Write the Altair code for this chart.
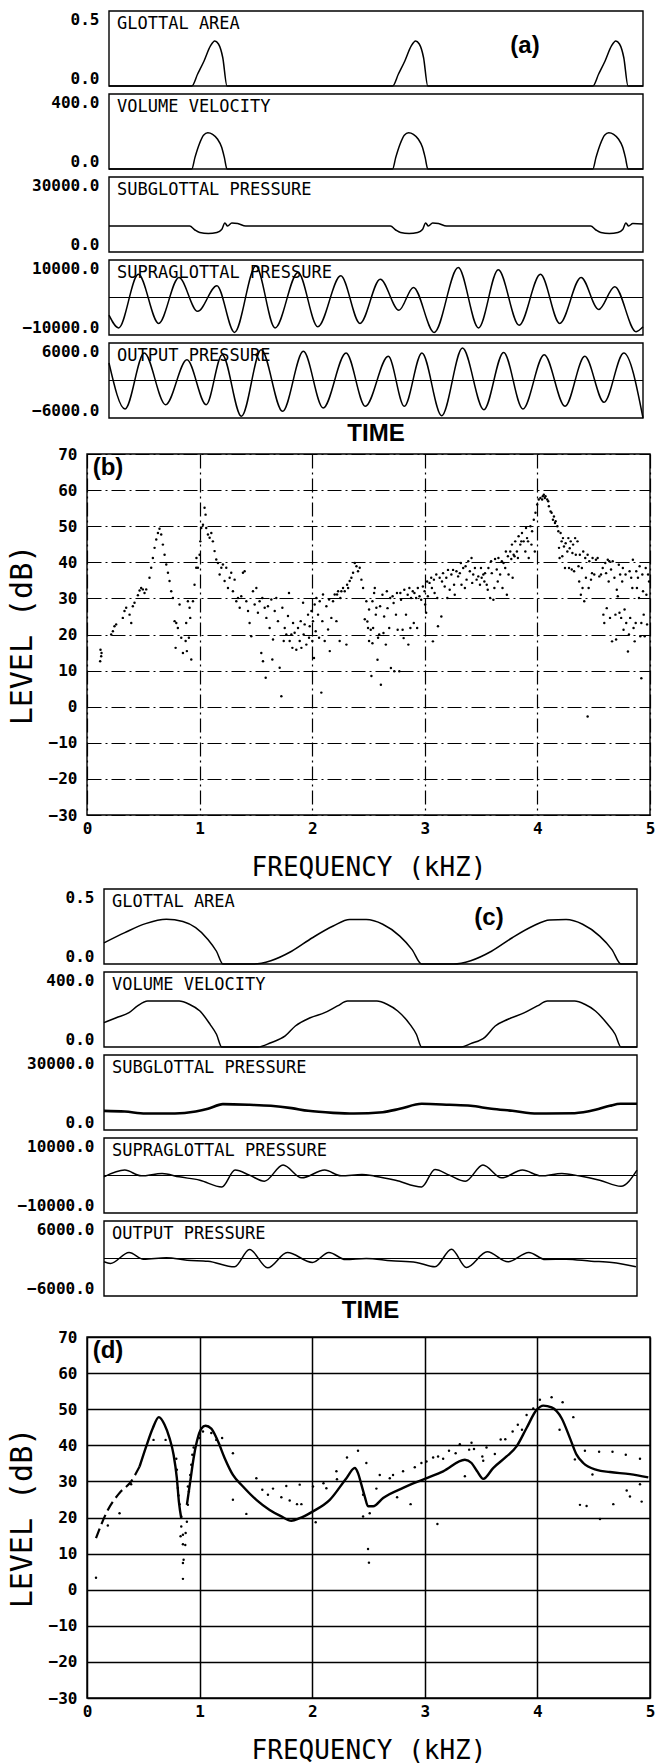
import altair as alt
import pandas as pd

MONO = "DejaVu Sans Mono"
SANS = "Liberation Sans"

# ---------------- (a) time waveforms, time axis in 0..100 units ----------------
A_GLOTTAL_T = [0, 15.5, 16.6, 17.8, 19.0, 19.8, 20.5, 21.3, 22.1,
               53.1, 54.2, 55.4, 56.6, 57.4, 58.1, 58.9, 59.7,
               90.6, 91.7, 92.9, 94.1, 94.9, 95.6, 96.4, 97.2, 100]
A_GLOTTAL_V = [0, 0, 0.08, 0.167, 0.267, 0.30, 0.28, 0.19, 0,
               0, 0.08, 0.167, 0.267, 0.30, 0.28, 0.19, 0,
               0, 0.08, 0.167, 0.267, 0.30, 0.28, 0.19, 0, 0]

A_FLOW_T = [0, 15.5, 16.1, 16.9, 17.7, 18.5, 19.4, 20.3, 21.1, 21.6, 22.1,
            53.1, 53.7, 54.5, 55.3, 56.1, 57.0, 57.9, 58.7, 59.2, 59.7,
            90.6, 91.2, 92.0, 92.8, 93.6, 94.5, 95.4, 96.2, 96.7, 97.2, 100]
A_FLOW_V = [0, 0, 62, 132, 180, 193, 185, 160, 116, 62, 0,
            0, 62, 132, 180, 193, 185, 160, 116, 62, 0,
            0, 62, 132, 180, 193, 185, 160, 116, 62, 0, 0]

A_SUB_T = [0, 15.1, 16.1, 17.0, 18.6, 20.2, 21.1, 21.7, 22.2, 23.0, 24.1, 25.6,
           52.7, 53.7, 54.6, 56.2, 57.8, 58.7, 59.3, 59.8, 60.6, 61.7, 63.2,
           90.2, 91.2, 92.1, 93.7, 95.3, 96.2, 96.8, 97.3, 98.1, 100]
A_SUB_V = [10400, 10400, 8800, 7800, 7400, 7800, 9000, 11600, 10400, 11600, 11400, 10400,
           10400, 8800, 7800, 7400, 7800, 9000, 11600, 10400, 11600, 11400, 10400,
           10400, 8800, 7800, 7400, 7800, 9000, 11600, 10400, 11400, 11200]

A_SUPRA_T = [0, 1.8, 5.5, 9.3, 13.1, 16.6, 20.2, 23.5, 27.5, 31.1, 35.4, 39.1, 43.4,
             47.0, 50.8, 54.3, 57.0, 60.9, 65.4, 69.2, 72.9, 76.8, 80.8, 84.4, 88.4,
             91.7, 94.7, 98.7, 100]
A_SUPRA_V = [-4700, -8100, 6200, -6900, 5350, -3700, 3160, -9300, 8400, -8100, 6700, -7800, 5800,
             -6900, 4900, -3400, 2700, -9300, 8000, -8100, 7400, -7400, 6200, -6900, 5350,
             -3200, 2900, -9100, -7800]

A_OUT_T = [0, 3.0, 6.6, 10.6, 14.6, 18.2, 21.2, 24.8, 28.5, 32.5, 36.4, 40.1, 44.4,
           48.0, 52.3, 55.3, 58.6, 62.3, 66.2, 70.2, 73.9, 77.5, 81.5, 85.4, 89.1,
           92.7, 96.4, 100]
A_OUT_V = [2800, -4560, 4400, -3870, 3330, -3870, 4130, -5730, 4930, -4930, 4670, -4400, 4400,
           -4130, 3870, -4130, 4400, -5630, 5200, -4670, 4500, -4560, 4130, -4130, 3870,
           -3490, 4400, -6000]

# ---------------- (c) time waveforms ----------------
C_GLOTTAL_T = [0, 3.9, 7.8, 11.7, 14.8, 17.2, 19.5, 21.1, 22.3, 28.1, 31.3, 35.2, 39.1,
               43.0, 46.1, 49.2, 52.3, 55.5, 57.8, 59.6, 65.6, 68.8, 72.7, 76.6, 80.5,
               83.6, 86.7, 89.8, 93.0, 95.3, 97.0, 100]
C_GLOTTAL_V = [0.141, 0.209, 0.269, 0.298, 0.283, 0.242, 0.164, 0.085, 0, 0, 0.022, 0.085, 0.175,
               0.253, 0.296, 0.296, 0.265, 0.186, 0.096, 0, 0, 0.022, 0.085, 0.175, 0.253,
               0.294, 0.296, 0.265, 0.186, 0.096, 0, 0]

C_FLOW_T = [0, 2.3, 4.7, 6.3, 8.2, 14.1, 16.0, 18.0, 19.9, 21.1, 22.1, 28.9, 31.3, 34.0,
            35.9, 38.7, 41.4, 43.8, 45.7, 51.2, 53.1, 55.1, 57.4, 58.6, 59.6, 67.0,
            68.8, 71.5, 73.4, 75.8, 78.9, 81.3, 83.2, 88.3, 90.2, 92.2, 94.5, 95.9, 97.0, 100]
C_FLOW_V = [130, 156, 183, 219, 245, 245, 228, 192, 121, 68, 0, 0, 23, 59,
            112, 156, 183, 219, 245, 245, 228, 192, 121, 68, 0, 0,
            18, 53, 112, 148, 183, 219, 245, 245, 228, 192, 121, 68, 0, 0]

C_SUB_T = [0, 3.9, 7.8, 13.3, 17.2, 19.5, 22.3, 27.3, 31.3, 35.2, 38.3, 43.0, 46.9,
           52.3, 55.5, 59.6, 64.8, 68.8, 72.7, 76.6, 81.3, 88.3, 92.2, 94.9, 96.9, 100]
C_SUB_V = [7670, 7400, 6590, 6590, 7400, 8480, 10360, 10090, 9690, 8740, 7670, 6860, 6590,
           7130, 8480, 10490, 10090, 9690, 8480, 7670, 6590, 6730, 8070, 9690, 10490, 10490]

C_SUPRA_T = [0, 3.9, 7.0, 10.9, 14.1, 18.0, 22.1, 24.6, 27.3, 30.1, 33.6, 37.1, 41.4,
             44.5, 48.4, 50.8, 54.7, 59.6, 62.1, 64.8, 67.8, 71.1, 74.6, 78.5, 82.0,
             85.9, 89.1, 93.0, 97.0, 100]
C_SUPRA_V = [-360, 1440, -90, 540, -360, -1260, -3060, 1440, 90, -1530, 2790, -630, 1440,
             -90, 270, -180, -1260, -3060, 1620, 90, -1530, 2790, -630, 1440, -90,
             540, -90, -1260, -2880, 1440]

C_OUT_T = [0, 1.2, 4.7, 7.4, 11.7, 15.6, 19.5, 24.5, 27.3, 30.7, 34.4, 39.1, 42.2,
           45.3, 49.2, 53.9, 58.6, 62.1, 65.2, 68.0, 71.9, 75.8, 79.7, 82.8, 86.7,
           91.4, 95.3, 99.8]
C_OUT_V = [-530, -800, 960, -110, 110, -270, -430, -1330, 1440, -1490, 960, -640, 960,
           -160, 0, -370, -640, -1330, 1490, -1440, 1070, -530, 960, -160, -110,
           -430, -640, -1330]

# ---------------- (b) spectrum points ----------------
B_LOW_KHZ = [0.12, 0.126, 0.117, 0.129, 0.215, 0.23, 0.244, 0.259, 0.318, 0.333, 0.348, 0.378,
             0.393, 0.407, 0.422, 0.452, 0.467, 0.481, 0.496, 0.511, 0.526, 0.555, 0.570, 0.585,
             0.600, 0.615, 0.630, 0.644, 0.659, 0.674, 0.689, 0.704, 0.719, 0.733, 0.748, 0.763,
             0.778, 0.793, 0.807, 0.822, 0.787, 0.837, 0.852, 0.876, 0.887, 0.926, 0.911, 0.896,
             0.881, 0.917, 0.941, 0.905, 0.955, 0.970, 0.972, 0.985, 1.0, 1.006, 1.015, 1.03,
             1.044, 1.053, 1.059, 1.074, 1.089, 1.104, 1.118, 1.133, 1.148, 1.163, 1.178, 1.193,
             1.207, 1.222, 1.237, 1.252, 1.267, 1.281, 1.296, 1.311, 1.326, 1.341, 1.356, 1.385,
             1.4, 1.37, 1.415, 1.43, 1.444, 1.459, 1.474, 1.489, 1.504, 1.518, 1.533, 1.548,
             1.557, 1.563, 1.578, 1.587, 1.593, 1.607, 1.622, 1.637, 1.646, 1.652, 1.667, 1.681,
             1.696, 1.711, 1.726, 1.735, 1.747, 1.756, 1.770, 1.785, 1.794, 1.8, 1.815, 1.824,
             1.830, 1.844, 1.859, 1.874, 1.889, 1.898, 1.904, 1.919, 1.924, 1.933, 1.948, 1.963,
             1.972, 1.978, 1.993, 2.001, 2.007, 2.016, 2.022, 2.031, 2.037, 2.052, 2.061, 2.067,
             2.081, 2.090, 2.096, 2.111, 2.126, 2.141, 2.150, 2.156, 2.170, 2.185, 2.200, 2.215,
             2.221, 2.230, 2.244, 2.250, 2.259, 2.274, 2.289, 2.304, 2.310, 2.319, 2.333, 2.348,
             2.363, 2.378, 2.393, 2.407, 2.422, 2.437, 2.452, 2.467, 2.481, 2.496, 2.505, 2.526,
             2.541, 2.556, 2.570, 2.585]
B_LOW_DB = [15.8, 14.0, 12.6, 14.9, 20.0, 20.9, 22.3, 22.8, 24.6, 26.5, 27.4, 25.5,
            23.2, 27.8, 28.8, 30.9, 32.2, 32.9, 32.5, 31.5, 32.5, 35.7, 38.5, 41.2,
            44.0, 46.3, 48.1, 49.3, 47.7, 44.9, 42.1, 39.4, 37.1, 34.8, 32.0, 30.1,
            23.7, 23.2, 21.8, 28.3, 16.3, 19.1, 14.9, 18.2, 15.4, 13.1, 27.4, 29.2,
            23.2, 24.6, 29.2, 19.1, 33.8, 38.5, 41.2, 38.5, 42.1, 45.8, 49.5, 50.4,
            55.1, 53.2, 49.5, 47.7, 46.8, 48.1, 45.8, 43.1, 40.8, 39.8, 36.6, 38.5,
            39.4, 34.8, 38.5, 32.9, 35.7, 37.1, 32.0, 35.2, 29.2, 30.1, 27.4, 37.1,
            37.5, 30.6, 29.2, 26.5, 23.2, 19.5, 32.0, 28.3, 32.9, 26.0, 29.2, 14.9,
            30.1, 12.6, 27.4, 8.0, 24.6, 27.8, 21.8, 29.7, 13.1, 18.6, 26.5, 30.1,
            23.7, 10.8, 2.9, 27.4, 18.2, 21.8, 20.0, 25.1, 31.5, 18.2, 20.0, 16.3,
            23.2, 20.5, 15.8, 21.8, 18.2, 23.7, 16.3, 28.8, 20.0, 22.8, 17.2, 25.5,
            19.1, 22.3, 26.5, 18.2, 23.7, 13.5, 28.3, 20.9, 30.1, 25.5, 19.1, 29.2,
            3.9, 23.7, 31.1, 18.2, 27.8, 21.4, 29.7, 15.4, 24.6, 29.2, 31.1, 23.7,
            31.1, 32.0, 18.2, 30.1, 32.0, 32.9, 32.0, 17.2, 33.8, 32.9, 34.8, 35.7,
            37.1, 39.8, 38.9, 37.5, 38.5, 35.2, 32.9, 24.2, 29.2, 21.8, 18.2, 8.5,
            21.8, 32.9, 27.4, 19.1]

B_HIGH_KHZ = [2.49, 2.505, 2.52, 2.535, 2.535, 2.55, 2.565, 2.58, 2.595, 2.603, 2.61, 2.624,
              2.633, 2.639, 2.654, 2.663, 2.669, 2.684, 2.693, 2.699, 2.714, 2.723, 2.729, 2.744,
              2.753, 2.759, 2.774, 2.783, 2.789, 2.803, 2.812, 2.818, 2.833, 2.848, 2.854, 2.863,
              2.872, 2.878, 2.893, 2.902, 2.908, 2.923, 2.932, 2.938, 2.953, 2.968, 2.983, 2.998,
              3.003, 3.012, 3.021, 3.027, 3.042, 3.057, 3.063, 3.072, 3.081, 3.087, 3.102, 3.111,
              3.117, 3.132, 3.147, 3.153, 3.162, 3.177, 3.191, 3.2, 3.206, 3.221, 3.236, 3.251,
              3.260, 3.266, 3.281, 3.296, 3.311, 3.320, 3.326, 3.341, 3.356, 3.362, 3.371, 3.386,
              3.400, 3.415, 3.421, 3.430, 3.445, 3.460, 3.475, 3.490, 3.499, 3.505, 3.520, 3.529,
              3.535, 3.550, 3.559, 3.565, 3.580, 3.589, 3.595, 3.609, 3.618, 3.624, 3.639, 3.648,
              3.654, 3.669, 3.684, 3.690, 3.699, 3.714, 3.720, 3.729, 3.738, 3.744, 3.759, 3.768,
              3.774, 3.780, 3.789, 3.797, 3.803, 3.818, 3.827, 3.833, 3.848, 3.857, 3.863, 3.878,
              3.893, 3.899, 3.908, 3.917, 3.923, 3.938, 3.947, 3.953, 3.968, 3.977, 3.983, 3.998,
              4.012, 4.027, 4.042, 4.048, 4.057, 4.066, 4.072, 4.087, 4.096, 4.102, 4.117, 4.126,
              4.138, 4.147, 4.156, 4.162, 4.177, 4.186, 4.192, 4.197, 4.206, 4.215, 4.221, 4.227,
              4.236, 4.245, 4.251, 4.266, 4.275, 4.281, 4.287, 4.296, 4.305, 4.311, 4.317, 4.326,
              4.335, 4.341, 4.356, 4.365, 4.371, 4.377, 4.386, 4.395, 4.401, 4.407, 4.416, 4.425,
              4.431, 4.446, 4.455, 4.461, 4.476, 4.485, 4.490, 4.505, 4.520, 4.535, 4.550, 4.565,
              4.580, 4.586, 4.594, 4.603, 4.610, 4.616, 4.625, 4.633, 4.639, 4.645, 4.654, 4.663,
              4.669, 4.684, 4.693, 4.699, 4.705, 4.714, 4.723, 4.729, 4.735, 4.744, 4.753, 4.759,
              4.765, 4.774, 4.783, 4.789, 4.804, 4.813, 4.819, 4.824, 4.833, 4.843, 4.848, 4.854,
              4.864, 4.873, 4.878, 4.884, 4.893, 4.902, 4.908, 4.914, 4.923, 4.932, 4.938, 4.944,
              4.953, 4.962, 4.968, 4.974, 4.983, 4.992, 4.923, 4.446]
B_HIGH_DB = [23.6, 26.9, 21.3, 17.6, 29.2, 31.5, 25.5, 13.0, 20.0, 27.8, 6.1, 31.0,
             20.4, 25.0, 17.2, 32.0, 27.3, 21.8, 30.1, 10.7, 30.6, 28.7, 9.8, 25.5,
             31.5, 21.3, 9.8, 31.5, 29.6, 21.3, 19.0, 32.4, 25.5, 31.0, 17.2, 32.9,
             21.8, 30.1, 32.0, 23.2, 31.5, 30.1, 21.8, 32.9, 30.6, 29.6, 33.3, 32.0,
             28.3, 26.0, 34.7, 30.6, 34.3, 35.7, 32.9, 18.1, 35.2, 31.5, 36.6, 30.1,
             22.3, 35.7, 25.0, 34.7, 37.0, 33.3, 35.7, 30.1, 37.9, 32.4, 36.6, 37.9,
             33.8, 31.0, 37.5, 36.1, 37.0, 39.8, 33.8, 38.4, 32.9, 38.9, 35.2, 40.3,
             37.5, 41.2, 34.3, 36.6, 38.4, 35.2, 36.1, 33.8, 38.4, 35.7, 36.6, 34.7,
             37.0, 33.8, 32.4, 38.4, 30.1, 40.3, 37.0, 29.6, 32.9, 40.9, 38.0, 34.7,
             41.2, 36.6, 40.3, 32.9, 39.8, 38.4, 43.0, 31.0, 41.7, 36.6, 43.0, 40.9,
             44.9, 35.7, 42.1, 41.7, 45.8, 43.0, 41.2, 47.2, 44.9, 45.8, 48.1, 45.8,
             43.0, 49.5, 46.7, 45.8, 41.2, 50.0, 44.9, 48.6, 51.8, 43.0, 53.7, 56.0,
             57.4, 57.8, 57.4, 58.3, 58.7, 57.8, 58.3, 57.4, 56.9, 55.5, 54.1, 53.7,
             51.8, 52.7, 50.9, 51.4, 50.0, 48.6, 44.0, 41.2, 48.1, 45.8, 41.7, 46.7,
             44.4, 38.4, 45.3, 43.0, 46.7, 38.4, 43.9, 45.8, 38.0, 42.6, 44.9, 37.5,
             46.7, 42.1, 45.8, 38.9, 34.7, 42.1, 31.0, 38.4, 32.9, 43.0, 29.2, 41.2,
             35.7, 42.1, 32.9, 40.3, 35.2, 37.0, 41.2, 36.6, 40.7, 41.2, 36.1, 36.6,
             38.4, 25.5, 23.2, 39.8, 37.0, 27.3, 40.7, 34.7, 40.3, 24.6, 38.0, 18.1,
             40.3, 35.7, 25.5, 18.6, 32.4, 30.6, 39.3, 26.0, 36.6, 24.6, 34.7, 38.4,
             21.3, 26.9, 36.6, 23.2, 15.3, 20.0, 37.5, 24.6, 35.7, 32.9, 40.7, 21.8,
             18.1, 23.2, 37.5, 32.9, 35.7, 30.1, 38.9, 19.5, 23.2, 36.6, 32.0, 25.5,
             19.5, 38.4, 31.0, 22.8, 36.6, 34.7, 7.9, -2.7]

# ---------------- (d) spectrum: traced envelope plus scattered points ----------------
D_RISE_KHZ = [0.08, 0.185, 0.289, 0.392, 0.467]
D_RISE_DB = [14.3, 22.1, 26.8, 30.0, 34.1]

D_PEAK1_KHZ = [0.467, 0.526, 0.585, 0.638, 0.689, 0.733, 0.769, 0.798, 0.816, 0.837]
D_PEAK1_DB = [34.1, 39.7, 44.8, 47.8, 45.7, 42.0, 37.4, 30.9, 24.4, 19.8]

D_TRACE_KHZ = [0.887, 0.917, 0.947, 0.976, 1.015, 1.053, 1.104, 1.163, 1.222, 1.296, 1.385,
               1.504, 1.622, 1.726, 1.815, 1.889, 2.007, 2.156, 2.304, 2.378, 2.407, 2.437,
               2.467, 2.496, 2.541, 2.63, 2.807, 3.0, 3.163, 3.356, 3.415, 3.465, 3.519,
               3.607, 3.726, 3.815, 3.904, 3.993, 4.052, 4.126, 4.215, 4.289, 4.348, 4.407,
               4.526, 4.644, 4.822, 4.985]
D_TRACE_DB = [23.5, 30.0, 36.5, 41.1, 44.6, 45.4, 44.6, 41.1, 36.5, 31.8, 28.6,
              24.9, 22.1, 20.3, 19.1, 19.8, 21.7, 24.9, 30.9, 33.7, 32.3, 29.1,
              25.8, 23.1, 23.1, 25.4, 28.2, 30.7, 32.8, 36.0, 35.1, 32.8, 30.7,
              33.7, 36.9, 39.7, 44.8, 49.8, 51.0, 50.5, 47.5, 42.0, 37.4, 35.1,
              33.2, 32.6, 32.0, 31.1]

D_DOTS_KHZ = [0.08, 0.185, 0.289, 0.392, 0.591, 0.698, 0.793, 0.798, 0.807, 0.813, 0.822, 0.837,
              0.837, 0.831, 0.852, 0.876, 0.852, 0.873, 0.858, 0.852, 0.852, 0.887, 0.896, 0.905,
              0.896, 0.917, 0.926, 0.935, 0.947, 1.0, 1.03, 1.104, 1.148, 1.2, 1.296, 1.296,
              1.415, 1.504, 1.557, 1.607, 1.652, 1.726, 1.77, 1.8, 1.865, 1.904, 1.889, 2.031,
              2.007, 2.1, 2.126, 2.215, 2.22, 2.309, 2.407, 2.481, 2.452, 2.452, 2.496, 2.504,
              2.57, 2.511, 2.6, 2.689, 2.718, 2.754, 2.807, 2.874, 2.911, 2.970, 3.015, 3.074,
              3.118, 3.163, 3.112, 3.215, 3.274, 3.311, 3.356, 3.394, 3.415, 3.437, 3.511, 3.519,
              3.548, 3.622, 3.674, 3.715, 3.78, 3.826, 3.863, 3.904, 3.963, 4.022, 4.126, 4.224,
              4.319, 4.197, 4.333, 4.422, 4.548, 4.667, 4.785, 4.911, 4.489, 4.378, 4.437, 4.556,
              4.674, 4.793, 4.822, 4.911, 4.926]
D_DOTS_DB = [3.3, 17.8, 21.2, 29.2, 41.5, 41.5, 36.3, 33.2, 28.2, 26.1, 23.7, 20.3,
             17.5, 14.8, 15.2, 15.7, 12.6, 12.4, 8.3, 7.4, 3.0, 18.8, 23.5, 27.2,
             28.6, 31.8, 34.6, 37.4, 39.4, 42.0, 43.8, 43.4, 41.5, 42.0, 37.8, 24.9,
             21.0, 30.9, 27.7, 26.3, 28.0, 25.6, 28.7, 24.7, 23.7, 23.7, 29.1, 18.7,
             28.6, 29.5, 28.1, 32.8, 30.6, 36.6, 38.5, 35.1, 26.3, 20.3, 11.3, 7.5,
             28.0, 21.2, 31.8, 30.9, 31.8, 25.6, 32.8, 23.7, 33.9, 35.1, 35.5, 36.6,
             36.9, 36.3, 18.2, 38.5, 37.8, 40.3, 31.4, 38.8, 40.7, 39.0, 36.9, 35.7,
             39.4, 37.6, 41.6, 41.7, 43.8, 45.7, 44.3, 48.4, 50.2, 52.6, 53.3, 51.9,
             47.8, 44.3, 36.1, 38.5, 38.2, 38.2, 37.4, 36.3, 31.9, 23.5, 23.2, 19.6,
             23.7, 27.5, 25.8, 29.2, 24.4]

DB_TICKS = [-30, -20, -10, 0, 10, 20, 30, 40, 50, 60, 70]
KHZ_TICKS = [0, 1, 2, 3, 4, 5]

PLOT_W = 563     # common plot-area width for every row
BOX_H = 75       # height of one waveform box
AXIS_EXT = 87    # space kept left of every plot area for labels and titles
TICK_FONT = 16


def time_panel(t, v, label, lo, hi, slot_h, x_range, zero_line=False,
               tag=None, tag_xy=(0, 0), time_y=None, stroke=1.5):
    """One waveform box drawn at the top of a slot of height slot_h."""
    x = alt.X("t:Q", scale=alt.Scale(domain=[0, 100], nice=False, zero=False, range=x_range),
              axis=None)
    y = alt.Y("v:Q", scale=alt.Scale(domain=[lo, hi], nice=False, zero=False,
                                     range=[BOX_H, 0]),
              axis=alt.Axis(values=[lo, hi], format=".1f", title=None, ticks=False,
                            domain=False, grid=False, labelFont=MONO, labelFontWeight="bold",
                            labelFontSize=TICK_FONT, labelPadding=10, labelColor="black",
                            labelFlush=True, labelFlushOffset=0, offset=-x_range[0],
                            minExtent=AXIS_EXT, maxExtent=AXIS_EXT))
    layers = [alt.Chart(pd.DataFrame({"t": [0], "t2": [100], "v": [lo], "v2": [hi]}))
              .mark_rect(fill=None, stroke="black", strokeWidth=1.4)
              .encode(x=x, x2="t2:Q", y=y, y2="v2:Q")]
    if zero_line:
        layers.append(alt.Chart(pd.DataFrame({"t": [0, 100], "v": [0, 0]}))
                      .mark_line(color="black", strokeWidth=1.2).encode(x=x, y=y))
    layers.append(alt.Chart(pd.DataFrame({"t": t, "v": v}))
                  .mark_line(color="black", strokeWidth=stroke, interpolate="monotone", clip=True)
                  .encode(x=x, y=y))
    layers.append(alt.Chart(pd.DataFrame({"name": [label]}))
                  .mark_text(font=MONO, fontSize=17, align="left", baseline="middle", color="black")
                  .encode(x=alt.value(x_range[0] + 8), y=alt.value(13), text="name:N"))
    if tag:
        layers.append(alt.Chart(pd.DataFrame({"tag": [tag]}))
                      .mark_text(font=SANS, fontSize=24, fontWeight="bold", align="center",
                                 baseline="middle", color="black")
                      .encode(x=alt.value(tag_xy[0]), y=alt.value(tag_xy[1]), text="tag:N"))
    if time_y is not None:
        layers.append(alt.Chart(pd.DataFrame({"ttl": ["TIME"]}))
                      .mark_text(font=SANS, fontSize=24, fontWeight="bold", align="center",
                                 baseline="middle", color="black")
                      .encode(x=alt.value((x_range[0] + x_range[1]) / 2), y=alt.value(time_y),
                              text="ttl:N"))
    return alt.layer(*layers).properties(width=PLOT_W, height=slot_h)


def spacer(h):
    """Empty slot that only reserves vertical room."""
    return (alt.Chart(pd.DataFrame({"s": [0]}))
            .mark_point(opacity=0)
            .encode(x=alt.X("s:Q", axis=None), y=alt.Y("s:Q", axis=None))
            .properties(width=PLOT_W, height=h))


def spectrum(tag, dash, grid_width, layers_data, height=361):
    grid = dict(grid=True, gridColor="black", gridWidth=grid_width, gridOpacity=1)
    if dash:
        grid["gridDash"] = dash
    x = alt.X("k:Q", scale=alt.Scale(domain=[0, 5], nice=False, zero=False),
              axis=alt.Axis(values=KHZ_TICKS, format="d", labelFlush=False, ticks=False,
                            domain=False, labelFont=MONO, labelFontWeight="bold",
                            labelFontSize=TICK_FONT, labelPadding=5, labelColor="black",
                            title="FREQUENCY (kHZ)", titleFont=MONO, titleFontSize=26,
                            titleFontWeight="normal", titlePadding=18, titleColor="black",
                            **grid))
    y = alt.Y("db:Q", scale=alt.Scale(domain=[-30, 70], nice=False, zero=False),
              axis=alt.Axis(values=DB_TICKS, format="d", ticks=False, domain=False,
                            labelFont=MONO, labelFontWeight="bold", labelFontSize=TICK_FONT,
                            labelPadding=10, labelColor="black",
                            minExtent=AXIS_EXT, maxExtent=AXIS_EXT,
                            title="LEVEL (dB)", titleFont=MONO, titleFontSize=30,
                            titleFontWeight="normal", titleColor="black",
                            titleX=-50, titleY=height / 2, **grid))
    layers = [alt.Chart(pd.DataFrame({"k": [0], "k2": [5], "db": [-30], "db2": [70]}))
              .mark_rect(fill=None, stroke="black", strokeWidth=1.4)
              .encode(x=x, x2="k2:Q", y=y, y2="db2:Q")]
    for kind, df, opts in layers_data:
        if kind == "dots":
            layers.append(alt.Chart(df).mark_circle(size=6, color="black", opacity=1)
                          .encode(x=x, y=y))
        else:
            layers.append(alt.Chart(df).mark_line(color="black", interpolate="monotone", **opts)
                          .encode(x=x, y=y, detail="seg:N"))
    layers.append(alt.Chart(pd.DataFrame({"tag": [tag]}))
                  .mark_text(font=SANS, fontSize=24, fontWeight="bold", align="center",
                             baseline="middle", color="black")
                  .encode(x=alt.value(21), y=alt.value(14), text="tag:N"))
    return alt.layer(*layers).properties(width=PLOT_W, height=height)


# ---- (a): boxes span x 22..556 of the plot area ----
XA = [22, 556]
panels_a = [
    time_panel(A_GLOTTAL_T, A_GLOTTAL_V, "GLOTTAL AREA", 0, 0.5, 83, XA,
               tag="(a)", tag_xy=(438, 35)),
    time_panel(A_FLOW_T, A_FLOW_V, "VOLUME VELOCITY", 0, 400, 83, XA),
    time_panel(A_SUB_T, A_SUB_V, "SUBGLOTTAL PRESSURE", 0, 30000, 83, XA),
    time_panel(A_SUPRA_T, A_SUPRA_V, "SUPRAGLOTTAL PRESSURE", -10000, 10000, 83, XA,
               zero_line=True),
    time_panel(A_OUT_T, A_OUT_V, "OUTPUT PRESSURE", -6000, 6000, 111, XA,
               zero_line=True, time_y=91),
]

# ---- (b) ----
b_dots = pd.DataFrame({"k": B_LOW_KHZ + B_HIGH_KHZ, "db": B_LOW_DB + B_HIGH_DB})
spec_b = spectrum("(b)", [14, 4, 2, 4], 1.2, [("dots", b_dots, {})])

# ---- (c): boxes span x 17..550 of the plot area ----
XC = [17, 550]
panels_c = [
    spacer(74),
    time_panel(C_GLOTTAL_T, C_GLOTTAL_V, "GLOTTAL AREA", 0, 0.5, 83, XC,
               tag="(c)", tag_xy=(402, 29)),
    time_panel(C_FLOW_T, C_FLOW_V, "VOLUME VELOCITY", 0, 400, 83, XC),
    time_panel(C_SUB_T, C_SUB_V, "SUBGLOTTAL PRESSURE", 0, 30000, 83, XC, stroke=2.6),
    time_panel(C_SUPRA_T, C_SUPRA_V, "SUPRAGLOTTAL PRESSURE", -10000, 10000, 83, XC,
               zero_line=True),
    time_panel(C_OUT_T, C_OUT_V, "OUTPUT PRESSURE", -6000, 6000, 116, XC,
               zero_line=True, time_y=90),
]

# ---- (d) ----
d_rise = pd.DataFrame({"k": D_RISE_KHZ, "db": D_RISE_DB, "seg": "rise"})
d_trace = pd.concat([
    pd.DataFrame({"k": D_PEAK1_KHZ, "db": D_PEAK1_DB, "seg": "p1"}),
    pd.DataFrame({"k": D_TRACE_KHZ, "db": D_TRACE_DB, "seg": "p2"}),
])
d_dots = pd.DataFrame({"k": D_DOTS_KHZ, "db": D_DOTS_DB})
spec_d = spectrum("(d)", None, 1.5, [
    ("line", d_rise, {"strokeWidth": 2.2, "strokeDash": [10, 5]}),
    ("line", d_trace, {"strokeWidth": 2.4}),
    ("dots", d_dots, {}),
])

chart = (
    alt.vconcat(*panels_a, spec_b, *panels_c, spec_d, spacing=0, bounds="flush")
    .properties(padding={"top": 10, "left": 0, "right": 0, "bottom": 0}, background="white")
    .configure_view(stroke=None)
)

chart.save("out.html", embed_options={"renderer": "svg", "actions": False})
